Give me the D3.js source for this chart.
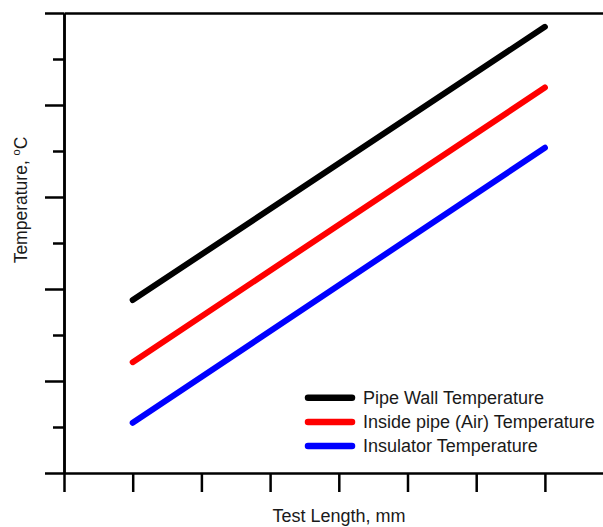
<!DOCTYPE html>
<html>
<head>
<meta charset="utf-8">
<script src="https://cdn.jsdelivr.net/npm/d3@7"></script>
<style>
  html, body { margin: 0; padding: 0; background: #fff; }
  svg { display: block; }
  text { font-family: "Liberation Sans", Arial, sans-serif; fill: #1a1a1a; }
</style>
</head>
<body>
<svg id="chart" width="603" height="527"></svg>
<script>
// ---- data (axes carry no numeric labels) ----
const testLength = [1, 7];                 // x positions (tick units)
const pipeWallTemp = [3.76, 9.70];         // black
const insideAirTemp = [2.41, 8.38];        // red
const insulatorTemp = [1.09, 7.07];        // blue
const seriesNames = ["Pipe Wall Temperature", "Inside pipe (Air) Temperature", "Insulator Temperature"];
const seriesColors = ["#000000", "#ff0000", "#0000ff"];
const xTickValues = [0, 1, 2, 3, 4, 5, 6, 7];
const yMajorTicks = [0, 2, 4, 6, 8, 10];
const yMinorTicks = [1, 3, 5, 7, 9];

const svg = d3.select("#chart");
const x = d3.scaleLinear().domain([0, 8]).range([64, 613.6]);
const y = d3.scaleLinear().domain([0, 10]).range([473, 13]);

const axisStroke = 2.5;
function styleAxis(g) {
  g.selectAll("path, line").attr("stroke", "#000").attr("stroke-width", axisStroke);
  g.selectAll("text").remove();
}

// x axis (ticks downward)
svg.append("g")
  .attr("transform", `translate(0,${y(0)})`)
  .call(d3.axisBottom(x).tickValues(xTickValues).tickSize(19).tickSizeOuter(0).tickFormat(""))
  .call(styleAxis);

// top frame line
svg.append("g")
  .attr("transform", `translate(0,${y(10)})`)
  .call(d3.axisTop(x).tickValues([]).tickSizeOuter(0))
  .call(styleAxis);

// y axis major ticks
svg.append("g")
  .attr("transform", `translate(${x(0)},0)`)
  .call(d3.axisLeft(y).tickValues(yMajorTicks).tickSize(19).tickSizeOuter(0).tickFormat(""))
  .call(styleAxis);
// y axis minor ticks
svg.append("g")
  .attr("transform", `translate(${x(0)},0)`)
  .call(d3.axisLeft(y).tickValues(yMinorTicks).tickSize(11).tickSizeOuter(0).tickFormat(""))
  .call(styleAxis);

// lines
const series = [pipeWallTemp, insideAirTemp, insulatorTemp];
const line = d3.line().x((d, i) => x(testLength[i])).y(d => y(d));
series.forEach((vals, k) => {
  svg.append("path")
    .datum(vals)
    .attr("d", line)
    .attr("fill", "none")
    .attr("stroke", seriesColors[k])
    .attr("stroke-width", 6)
    .attr("stroke-linecap", "round");
});

// legend
const legend = svg.append("g");
seriesNames.forEach((name, k) => {
  const ly = 397.7 + k * 24.2;
  legend.append("line")
    .attr("x1", 308).attr("x2", 352).attr("y1", ly).attr("y2", ly)
    .attr("stroke", seriesColors[k]).attr("stroke-width", 6.5).attr("stroke-linecap", "round");
  legend.append("text")
    .attr("x", 363).attr("y", ly + 6.2)
    .attr("font-size", 18)
    .text(name);
});

// axis titles
svg.append("text")
  .attr("x", 339).attr("y", 522)
  .attr("text-anchor", "middle")
  .attr("font-size", 18)
  .text("Test Length, mm");

const yt = svg.append("text")
  .attr("transform", "translate(27,200) rotate(-90)")
  .attr("text-anchor", "middle")
  .attr("font-size", 17.5);
yt.append("tspan").text("Temperature, ");
yt.append("tspan").attr("font-size", 11).attr("dy", -7).text("o");
yt.append("tspan").attr("dy", 7).text("C");
</script>
</body>
</html>
